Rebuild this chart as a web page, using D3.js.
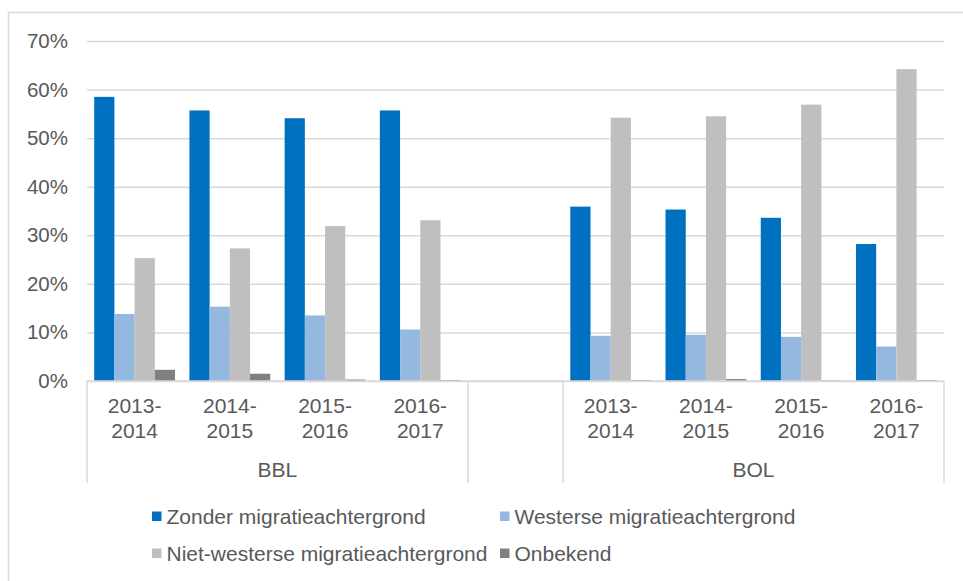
<!DOCTYPE html>
<html>
<head>
<meta charset="utf-8">
<script src="https://cdn.jsdelivr.net/npm/d3@7"></script>
<style>
  html, body { margin: 0; padding: 0; background: #fff; }
  svg { display: block; font-family: "Liberation Sans", Arial, sans-serif; }
</style>
</head>
<body>
<svg id="chart" width="963" height="581"></svg>
<script>
// Shares of students by migration background, per programme type and school year
const groups = ["BBL", "BOL"];
const years = ["2013-2014", "2014-2015", "2015-2016", "2016-2017"];
const seriesNames = [
  "Zonder migratieachtergrond",
  "Westerse migratieachtergrond",
  "Niet-westerse migratieachtergrond",
  "Onbekend"
];
// values in percent: first four = BBL years, last four = BOL years
const zonder       = [58.5, 55.7, 54.1, 55.7, 35.9, 35.3, 33.6, 28.2];
const westers      = [13.8, 15.3, 13.5, 10.6,  9.3,  9.5,  9.1,  7.1];
const nietWesters  = [25.3, 27.3, 31.9, 33.1, 54.2, 54.5, 56.9, 64.2];
const onbekend     = [ 2.3,  1.5,  0.3,  0.2,  0.2,  0.4,  0.1,  0.2];
const yTicks = [0, 10, 20, 30, 40, 50, 60, 70];
const colors = ["#0070C0", "#95B8E1", "#BFBFBF", "#808080"];

const seriesValues = [zonder, westers, nietWesters, onbekend];

// slot keys: 4 BBL years, an empty spacer slot, 4 BOL years
const slots = [];
groups.forEach((g, gi) => {
  years.forEach(y => slots.push({ key: g + "|" + y, group: g, year: y }));
  if (gi < groups.length - 1) slots.push({ key: "gap" + gi, group: null, year: null });
});
const dataSlots = slots.filter(s => s.group);
dataSlots.forEach((s, i) => { s.values = seriesValues.map(arr => arr[i]); });

const svg = d3.select("#chart");
const plotLeft = 87, plotRight = 944, plotTop = 41, plotBottom = 381;
const textColor = "#595959";
const lineColor = "#D9D9D9";
const fontSize = 21;
const yFontSize = 20.5;

// chart frame
svg.append("rect")
  .attr("x", 8.5).attr("y", 12.5)
  .attr("width", 1000).attr("height", 700)
  .attr("fill", "none").attr("stroke", lineColor).attr("stroke-width", 1.5);

const x = d3.scaleBand().domain(slots.map(s => s.key)).range([plotLeft, plotRight]).padding(0);
const xInner = d3.scaleBand().domain(seriesNames).range([0, x.bandwidth()])
  .paddingInner(0).paddingOuter(0.356);
const y = d3.scaleLinear().domain([0, 70]).range([plotBottom, plotTop]);

// gridlines and y labels
const yAxis = d3.axisLeft(y).tickValues(yTicks).tickSize(-(plotRight - plotLeft))
  .tickFormat(d => d + "%").tickPadding(19);
const gy = svg.append("g").attr("transform", `translate(${plotLeft},0)`).call(yAxis);
gy.select(".domain").remove();
gy.selectAll(".tick line").attr("stroke", lineColor).attr("stroke-width", 1.5);
gy.selectAll(".tick text")
  .attr("fill", textColor).style("font-size", yFontSize + "px")
  .style("font-family", "'Liberation Sans', Arial, sans-serif");

// bars
const slotG = svg.append("g").selectAll("g").data(dataSlots).join("g")
  .attr("transform", d => `translate(${x(d.key)},0)`);
slotG.selectAll("rect")
  .data(d => d.values.map((v, i) => ({ name: seriesNames[i], v, i })))
  .join("rect")
  .attr("x", d => xInner(d.name))
  .attr("width", xInner.bandwidth())
  .attr("y", d => y(d.v))
  .attr("height", d => y(0) - y(d.v))
  .attr("fill", d => colors[d.i]);

// category axis: baseline and group separators
const axisBottom = 483;
svg.append("line").attr("x1", plotLeft).attr("x2", plotRight).attr("y1", plotBottom).attr("y2", plotBottom)
  .attr("stroke", lineColor).attr("stroke-width", 1.5);
const sepX = [plotLeft, x("gap0"), x("gap0") + x.bandwidth(), plotRight];
svg.append("g").selectAll("line").data(sepX).join("line")
  .attr("x1", d => d).attr("x2", d => d)
  .attr("y1", plotBottom).attr("y2", axisBottom)
  .attr("stroke", lineColor).attr("stroke-width", 1.5);

// year labels in two lines
const yl = svg.append("g").selectAll("text").data(dataSlots).join("text")
  .attr("text-anchor", "middle")
  .attr("fill", textColor).style("font-size", fontSize + "px");
yl.each(function(d) {
  const parts = d.year.split("-");
  const t = d3.select(this);
  const cx = x(d.key) + x.bandwidth() / 2;
  t.append("tspan").attr("x", cx).attr("y", 413).text(parts[0] + "-");
  t.append("tspan").attr("x", cx).attr("y", 438).text(parts[1]);
});

// group labels
svg.append("g").selectAll("text").data(groups).join("text")
  .attr("x", g => {
    const ks = dataSlots.filter(s => s.group === g);
    return (x(ks[0].key) + x(ks[ks.length - 1].key) + x.bandwidth()) / 2;
  })
  .attr("y", 477)
  .attr("text-anchor", "middle")
  .attr("fill", textColor).style("font-size", fontSize + "px")
  .text(g => g);

// legend
const legendPos = [[152, 524], [500, 524], [152, 561], [500, 561]];
const lg = svg.append("g").selectAll("g").data(seriesNames).join("g")
  .attr("transform", (d, i) => `translate(${legendPos[i][0]},${legendPos[i][1]})`);
lg.append("rect").attr("x", 0).attr("y", -12.5).attr("width", 9.5).attr("height", 9.5)
  .attr("fill", (d, i) => colors[i]);
lg.append("text").attr("x", 14.5).attr("y", 0)
  .attr("fill", textColor).style("font-size", fontSize + "px")
  .text(d => d);
</script>
</body>
</html>
